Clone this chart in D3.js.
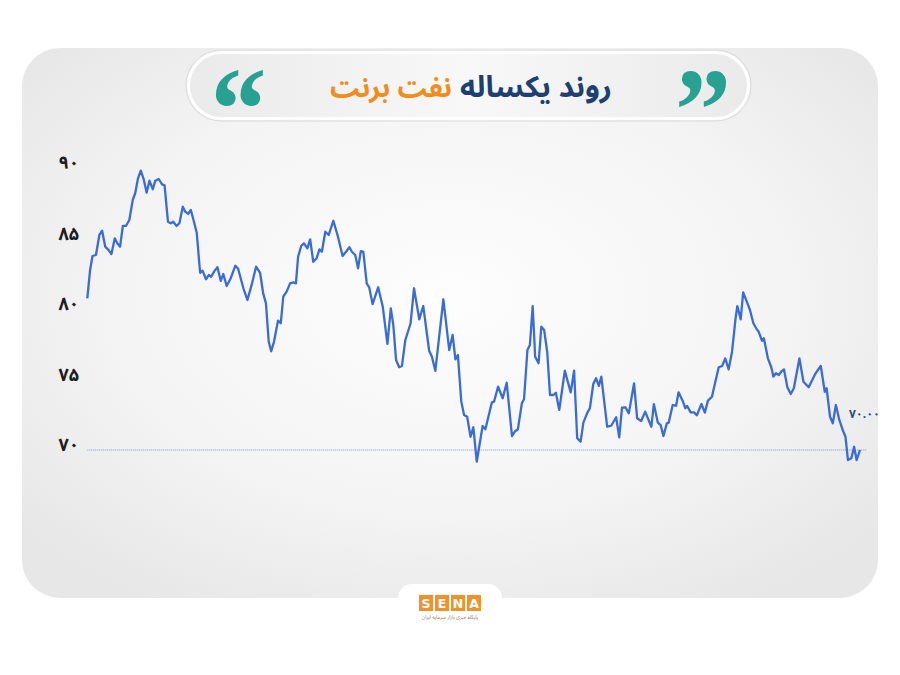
<!DOCTYPE html>
<html><head><meta charset="utf-8">
<script src="https://cdn.jsdelivr.net/npm/d3@7"></script>
<style>
html,body{margin:0;padding:0;background:#fff;}
svg{display:block;}
</style></head>
<body>
<svg id="chart" width="900" height="675"></svg>
<script>
// ---- data ----
const titleMain = "روند یکساله";
const titleAccent = "نفت برنت";
const yTicks = [70, 75, 80, 85, 90];
const days = [0.0,0.9,1.7,2.8,3.9,4.8,5.8,6.9,7.8,8.9,9.7,10.6,11.5,12.5,13.6,14.7,15.5,16.4,17.3,18.3,19.2,20.1,21.2,22.0,23.1,24.2,25.0,26.1,27.0,27.8,28.9,29.8,30.9,31.7,32.6,33.5,34.5,35.4,36.5,37.3,38.4,39.3,40.1,41.0,42.1,43.2,44.0,45.1,46.4,47.9,48.8,50.5,51.8,53.3,54.6,55.9,56.9,57.8,58.7,59.5,60.4,61.7,62.6,63.4,64.5,65.6,66.6,67.5,
68.2,69.2,70.1,71.2,72.1,73.1,74.2,75.1,75.9,77.0,78.1,79.6,81.1,82.6,83.7,84.8,85.6,86.7,87.6,88.5,89.3,90.4,91.2,92.3,94.1,95.6,97.1,98.2,99.0,99.9,100.9,101.8,102.9,104.6,105.7,107.4,108.7,110.6,111.5,112.6,115.2,117.1,118.2,119.1,119.9,121.0,121.9,122.9,124.0,124.9,126.0,127.9,128.8,130.9,131.6,132.9,134.4,135.7,
137.4,138.3,139.3,140.6,141.3,142.4,143.2,144.1,144.9,146.0,146.9,147.8,148.8,149.7,150.8,151.6,152.7,154.5,156.4,157.5,158.5,159.6,160.5,161.8,162.6,163.7,164.6,165.5,166.3,168.2,169.5,171.1,172.1,173.0,174.1,175.2,176.9,177.9,179.2,180.5,182.5,183.3,184.6,185.5,186.4,187.5,188.1,189.4,190.5,191.3,192.6,193.5,194.1,195.2,196.3,197.2,198.7,199.8,200.8,
202.1,203.2,204.3,205.4,206.4,207.5,208.6,209.7,210.3,211.4,212.2,213.5,214.4,215.5,216.4,217.2,218.3,218.9,220.2,221.3,222.0,222.8,223.7,224.5,225.4,226.5,227.6,228.6,230.4,231.7,233.4,235.5,237.3,238.6,239.2,240.3,241.2,242.2,243.3,244.4,245.3,246.1,247.2,248.1,248.9,250.0];
const prices = [80.76,82.77,83.76,83.83,85.25,85.55,84.42,84.18,83.90,85.01,84.66,84.42,85.89,85.89,86.31,87.73,88.21,89.27,89.81,89.15,88.25,89.10,88.49,89.10,89.22,88.84,88.77,86.19,86.08,86.19,85.89,86.08,87.26,86.90,86.74,87.02,86.19,85.41,82.57,82.72,82.11,82.41,82.29,82.65,82.96,81.99,82.48,81.63,82.18,83.07,82.86,81.47,80.64,81.82,83.00,82.57,81.11,80.40,77.68,77.00,77.68,79.17,78.99,80.87,81.23,81.82,81.89,81.82,
83.71,84.47,84.66,84.30,84.94,83.35,83.60,84.23,84.06,85.48,85.25,86.26,85.13,83.76,84.06,84.38,84.06,83.83,82.89,84.11,84.06,81.82,81.54,80.35,81.54,80.16,77.52,80.05,78.87,76.38,75.87,75.96,77.80,78.99,81.47,79.27,80.21,77.04,76.62,75.62,80.69,77.09,78.16,76.43,76.74,73.43,72.48,72.36,70.94,71.61,69.17,71.70,71.47,73.38,73.43,74.49,73.67,74.77,
70.99,71.30,71.47,73.31,73.60,77.09,77.45,80.21,76.62,76.15,78.74,78.51,76.97,73.90,73.90,74.06,72.84,75.62,74.09,75.62,70.83,70.59,71.94,72.65,72.96,74.68,75.09,74.54,75.20,71.65,71.72,72.32,70.90,73.00,73.03,72.60,74.73,72.25,72.06,72.72,71.65,73.26,71.94,71.77,70.99,71.89,71.94,73.19,73.14,74.09,73.50,72.96,73.12,72.67,72.67,72.46,73.26,72.65,73.50,
73.78,74.84,75.87,75.96,76.50,75.72,76.97,79.27,80.21,79.27,81.18,80.45,79.93,78.99,78.63,78.39,77.75,77.92,76.50,75.87,75.20,75.44,75.32,75.55,75.72,74.45,73.97,74.38,76.50,74.84,74.45,75.39,75.96,74.13,74.38,72.36,71.89,73.19,72.13,71.42,70.94,69.29,69.41,70.23,69.29,70.00];
const refLevel = 70;
const logoLetters = ["S","E","N","A"];
const logoCaption = "پایگاه خبری بازار سرمایه ایران";

// ---- helpers ----
const faDigits = "۰۱۲۳۴۵۶۷۸۹";
const toFa = s => String(s).replace(/\d/g, c => faDigits[+c]);

const svg = d3.select("#chart");
const defs = svg.append("defs");

const rg = defs.append("radialGradient").attr("id","cardBg").attr("cx","50%").attr("cy","45%").attr("r","65%");
rg.append("stop").attr("offset","0%").attr("stop-color","#fdfdfd");
rg.append("stop").attr("offset","60%").attr("stop-color","#f4f4f4");
rg.append("stop").attr("offset","100%").attr("stop-color","#e7e7e7");

const pg = defs.append("linearGradient").attr("id","pillBg").attr("x1","0").attr("x2","1").attr("y1","0").attr("y2","0");
pg.append("stop").attr("offset","0%").attr("stop-color","#eaeaea");
pg.append("stop").attr("offset","50%").attr("stop-color","#f8f8f8");
pg.append("stop").attr("offset","100%").attr("stop-color","#eaeaea");

// card
svg.append("rect").attr("x",22).attr("y",48).attr("width",856).attr("height",550).attr("rx",38).attr("fill","url(#cardBg)");

// title pill
svg.append("rect").attr("x",186).attr("y",50).attr("width",565).attr("height",71).attr("rx",35)
  .attr("fill","url(#pillBg)").attr("stroke","#dcdcdc").attr("stroke-width",1);
svg.append("rect").attr("x",188.5).attr("y",52.5).attr("width",560).attr("height",66).attr("rx",33)
  .attr("fill","none").attr("stroke","#ffffff").attr("stroke-width",3);

const fontFa = "'Noto Sans Arabic','DejaVu Sans',sans-serif";

function fitText(sel, width) {
  const w = sel.node().getComputedTextLength();
  const fs = parseFloat(sel.attr("font-size"));
  sel.attr("font-size", fs * width / w);
}
const t1 = svg.append("text").attr("x",612).attr("y",97).attr("text-anchor","end")
  .attr("font-family",fontFa).attr("font-weight","bold").attr("font-size",26)
  .attr("fill","#1e3f72").text(titleMain);
fitText(t1, 152);
const t2 = svg.append("text").attr("x",452).attr("y",97).attr("text-anchor","end")
  .attr("font-family",fontFa).attr("font-weight","bold").attr("font-size",26)
  .attr("fill","#f28c1c").text(titleAccent);
fitText(t2, 122);

// quote marks
const qFont = "'Liberation Serif','Times New Roman',serif";
svg.append("text").attr("transform","translate(238.5,149) scale(0.95,1)").attr("text-anchor","middle")
  .attr("font-family",qFont).attr("font-weight","bold").attr("font-size",118)
  .attr("fill","#27a292").text("“");
svg.append("text").attr("transform","translate(703,150) scale(0.95,1)").attr("text-anchor","middle")
  .attr("font-family",qFont).attr("font-weight","bold").attr("font-size",118)
  .attr("fill","#27a292").text("”");

// scales
const x = d3.scaleLinear().domain([0, 250]).range([87.3, 860]);
const y = d3.scaleLinear().domain([70, 90]).range([450, 168]);

// y axis labels
const yAxis = d3.axisLeft(y).tickValues(yTicks).tickSize(0).tickPadding(0).tickFormat(d => toFa(d));
const gy = svg.append("g").attr("transform","translate(79,-5)").call(yAxis);
gy.select(".domain").remove();
gy.selectAll("text").attr("font-family",fontFa).attr("font-weight","bold").attr("font-size",18).attr("fill","#1c1c1c");

// reference dotted line
svg.append("line").attr("x1",x(0)).attr("x2",x(252)).attr("y1",y(refLevel)).attr("y2",y(refLevel))
  .attr("stroke","#5b82d6").attr("stroke-width",1).attr("stroke-dasharray","1,1").attr("opacity",0.8);

// price line
const pts = days.map((d,i)=>[d, prices[i]]);
const line = d3.line().x(d=>x(d[0])).y(d=>y(d[1]));
svg.append("path").datum(pts).attr("d",line).attr("fill","none")
  .attr("stroke","#3a6bd9").attr("stroke-width",2.3).attr("stroke-linejoin","round");

// end label
svg.append("text").attr("x",x(days[days.length-1]) - 11).attr("y",y(prices[prices.length-1]) - 32)
  .attr("font-family",fontFa).attr("font-weight","bold").attr("font-size",12).attr("fill","#2d4c7c")
  .text(toFa(prices[prices.length-1].toFixed(2)));

// logo tab
svg.append("rect").attr("x",398).attr("y",584).attr("width",104).attr("height",40).attr("rx",14).attr("fill","#ffffff");
const lx = d3.scaleBand().domain(logoLetters).range([419,481]).paddingInner(0.12);
const lg = svg.append("g");
lg.selectAll("rect").data(logoLetters).join("rect")
  .attr("x",d=>lx(d)).attr("y",595).attr("width",lx.bandwidth()).attr("height",16).attr("fill","#f0922b");
lg.selectAll("text").data(logoLetters).join("text")
  .attr("x",d=>lx(d)+lx.bandwidth()/2).attr("y",608).attr("text-anchor","middle")
  .attr("font-family","'DejaVu Sans',sans-serif").attr("font-weight","bold").attr("font-size",12.5)
  .attr("fill","#ffffff").text(d=>d);
svg.append("text").attr("x",450).attr("y",619).attr("text-anchor","middle")
  .attr("font-family",fontFa).attr("font-size",5).attr("fill","#8a7a6a").text(logoCaption);
</script>
</body></html>
